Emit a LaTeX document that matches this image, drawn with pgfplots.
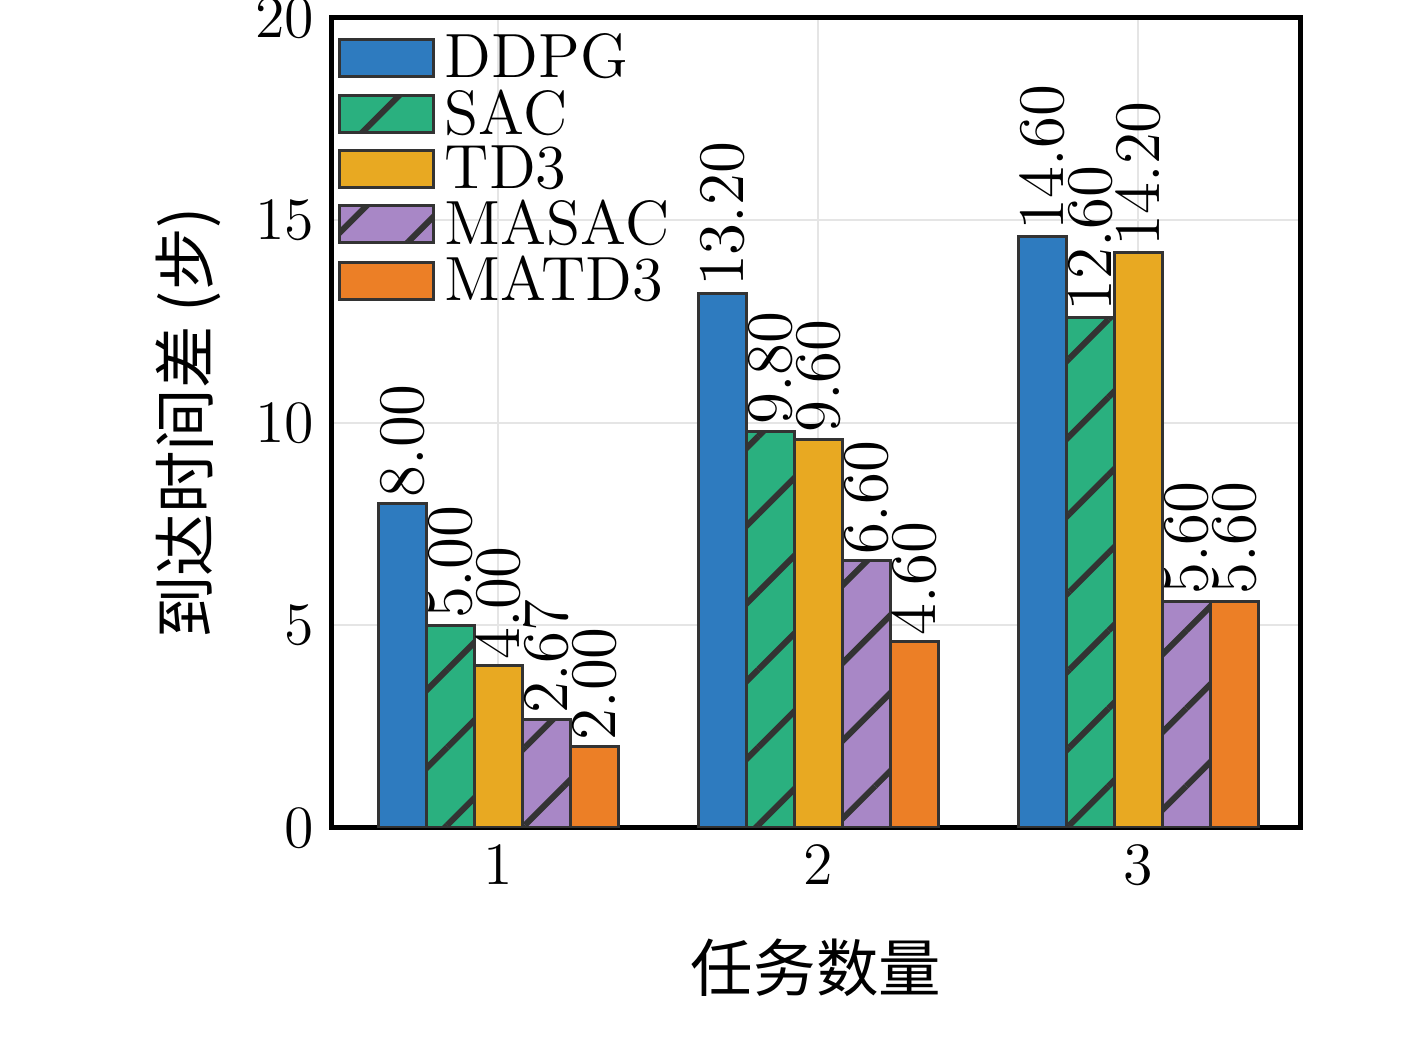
\documentclass[border=0pt]{standalone}
\usepackage{fontspec}
\usepackage{pgfplots}
\pgfplotsset{compat=1.18}
\usetikzlibrary{patterns.meta}
\newfontfamily\cjk{Noto Sans CJK SC}
\definecolor{cA}{HTML}{2E7BBF}
\definecolor{cB}{HTML}{2AB07F}
\definecolor{cC}{HTML}{E8A922}
\definecolor{cD}{HTML}{A887C6}
\definecolor{cE}{HTML}{EC7F26}
\begin{document}
\begin{tikzpicture}
\useasboundingbox (-66.4pt,-42.2pt) rectangle (217pt,165.6pt);
\begin{axis}[
  at={(0,0)}, anchor=south west,
  scale only axis, width=193.6pt, height=162pt,
  ybar=0pt, bar width=9.6pt,
  xmin=0.48, xmax=3.506, ymin=0, ymax=20,
  xtick={1,2,3}, ytick={0,5,10,15,20},
  tick label style={font=\fontsize{12.5}{14}\selectfont},
  major tick length=0pt,
  grid=major, grid style={gray!20},
  axis line style={line width=1pt},
  xlabel={\cjk 任务数量}, ylabel={\cjk 到达时间差 (步)},
  xlabel style={yshift=-4pt},
  label style={font=\fontsize{12.5}{14}\selectfont},
  legend cell align=left,
  legend style={at={(0,1)},anchor=north west,draw=none,fill=none,
    font=\fontsize{12.5}{13}\selectfont, row sep=-3.2pt, inner sep=1pt},
  legend image code/.code={\draw[#1] (0cm,-0.12cm) rectangle (0.66cm,0.14cm);},
  every axis plot/.append style={draw=black!80, line width=0.6pt},
  nodes near coords, nodes near coords align={vertical},
  every node near coord/.append style={rotate=90, anchor=west, inner sep=1pt,
    font=\fontsize{13}{14}\selectfont, black},
  point meta=explicit symbolic,
]
\addplot[fill=cA] coordinates {(1,8)[8.00] (2,13.2)[13.20] (3,14.6)[14.60]};
\addplot[fill=cB, postaction={pattern={Lines[angle=45,distance=11pt,line width=1.2pt]}, pattern color=black!80}] coordinates {(1,5)[5.00] (2,9.8)[9.80] (3,12.6)[12.60]};
\addplot[fill=cC] coordinates {(1,4)[4.00] (2,9.6)[9.60] (3,14.2)[14.20]};
\addplot[fill=cD, postaction={pattern={Lines[angle=45,distance=11pt,line width=1.2pt]}, pattern color=black!80}] coordinates {(1,2.67)[2.67] (2,6.6)[6.60] (3,5.6)[5.60]};
\addplot[fill=cE] coordinates {(1,2)[2.00] (2,4.6)[4.60] (3,5.6)[5.60]};
\legend{DDPG,SAC,TD3,MASAC,MATD3}
\end{axis}
\end{tikzpicture}
\end{document}
